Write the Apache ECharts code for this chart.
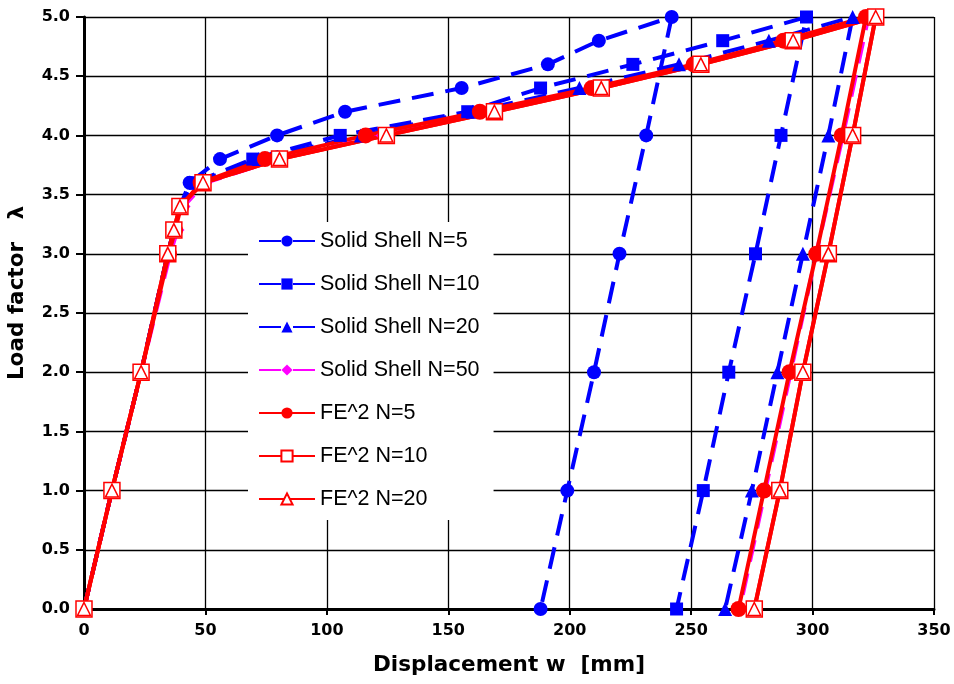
<!DOCTYPE html>
<html>
<head>
<meta charset="utf-8">
<script src="https://cdn.jsdelivr.net/npm/echarts@6/dist/echarts.min.js"></script>
<style>html,body{margin:0;padding:0;background:#fff;}#c{width:954px;height:684px;}</style>
</head>
<body>
<div id="c"></div>
<script>
// Load factor steps (loading then unloading)
var loadSteps = [0, 1, 2, 3, 3.2, 3.4, 3.6, 3.8, 4.0, 4.2, 4.4, 4.6, 4.8, 5.0, 4.0, 3.0, 2.0, 1.0, 0.0];
// Displacement w [mm] for each series, aligned with loadSteps
var ss5  = [0, 11.5, 23.5, 34.5, 37, 39.5, 43.5, 56, 79.5, 107.5, 155.5, 191, 212, 242, 231.5, 220.5, 210, 199, 188];
var ss10 = [0, 11.5, 23.5, 34.5, 37, 39.5, 45, 69.5, 105.5, 158, 188, 226, 263, 297.5, 287, 276.5, 265.5, 255, 244];
var ss20 = [0, 11.5, 23.5, 34.5, 37, 39.5, 46, 72, 114, 160, 204, 245, 282, 316.5, 306.5, 296, 285.5, 275, 264];
var ss50 = [0, 11.5, 23.5, 35.5, 38.5, 41, 50, 80, 123, 167, 211.5, 252, 288.5, 323, 312.5, 301.5, 291, 280.5, 270];
var fe5  = [0, 11.5, 23.5, 35, 37.5, 40, 48, 74.5, 116, 163, 209, 251, 288, 322, 312, 301.5, 290.5, 280, 269.5];
var fe10 = [0, 11.5, 23.5, 34.5, 37, 39.5, 49, 80.5, 124.5, 169, 213, 254, 292, 326, 316.5, 306.5, 296, 286.5, 276];
var fe20 = [0, 11.5, 23.5, 34.5, 37, 39.5, 49, 80.5, 124.5, 169, 213, 254, 292, 326, 316.5, 306.5, 296, 286.5, 276];
var seriesNames = ['Solid Shell N=5', 'Solid Shell N=10', 'Solid Shell N=20', 'Solid Shell N=50', 'FE^2 N=5', 'FE^2 N=10', 'FE^2 N=20'];

function pairs(xs) { return xs.map(function (x, i) { return [x, loadSteps[i]]; }); }

var BLUE = '#0000ff', MAG = '#ff00ff', RED = '#ff0000';
var dash = [22, 12];
function ss(name, xs, color, symbol, size) {
  return {
    name: name, type: 'line', data: pairs(xs), symbol: symbol, symbolSize: size,
    lineStyle: { color: color, width: 4, type: dash },
    itemStyle: { color: color }, animation: false
  };
}
function fe(name, xs, symbol, size, filled) {
  return {
    name: name, type: 'line', data: pairs(xs), symbol: symbol, symbolSize: size,
    lineStyle: { color: RED, width: 4, type: 'solid' },
    itemStyle: filled ? { color: RED } : { color: '#fff', borderColor: RED, borderWidth: 1.5 },
    animation: false
  };
}

var chart = echarts.init(document.getElementById('c'), null, { renderer: 'canvas' });
var axisFont = { fontFamily: 'DejaVu Sans', fontWeight: 'bold', fontSize: 16, color: '#000' };
chart.setOption({
  backgroundColor: '#fff',
  animation: false,
  grid: { left: 84, right: 20, top: 17, bottom: 75, containLabel: false, outerBoundsMode: 'none' },
  xAxis: {
    type: 'value', min: 0, max: 350, interval: 50,
    name: 'Displacement w  [mm]', nameLocation: 'middle', nameGap: 45,
    nameTextStyle: { fontFamily: 'DejaVu Sans', fontWeight: 'bold', fontSize: 21.5, color: '#000' },
    axisLine: { show: true, onZero: false, lineStyle: { color: '#000', width: 3 } },
    axisTick: { show: true, inside: false, length: 6, lineStyle: { color: '#000', width: 2 } },
    axisLabel: Object.assign({ margin: 14 }, axisFont),
    splitLine: { show: true, lineStyle: { color: '#000', width: 1.3 } }
  },
  yAxis: {
    type: 'value', min: 0, max: 5, interval: 0.5,
    name: 'Load factor   λ', nameLocation: 'middle', nameGap: 56,
    nameTextStyle: { fontFamily: 'DejaVu Sans', fontWeight: 'bold', fontSize: 21.5, color: '#000', padding: [0, 0, 0, 40] },
    axisLine: { show: true, onZero: false, lineStyle: { color: '#000', width: 3 } },
    axisTick: { show: true, inside: false, length: 8, lineStyle: { color: '#000', width: 2 } },
    axisLabel: Object.assign({ margin: 14, formatter: function (v) { return v.toFixed(1); } }, axisFont),
    splitLine: { show: true, lineStyle: { color: '#000', width: 1.3 } }
  },
  legend: {
    data: seriesNames, orient: 'vertical', left: 248, top: 222,
    backgroundColor: '#fff', padding: [8, 14, 10, 10],
    itemWidth: 56, itemHeight: 14, itemGap: 21,
    textStyle: { fontFamily: 'Liberation Sans', fontSize: 21.5, color: '#000' }
  },
  series: [
    ss(seriesNames[0], ss5, BLUE, 'circle', 14),
    ss(seriesNames[1], ss10, BLUE, 'rect', 13),
    ss(seriesNames[2], ss20, BLUE, 'triangle', 14),
    ss(seriesNames[3], ss50, MAG, 'diamond', 14),
    fe(seriesNames[4], fe5, 'circle', 16, true),
    fe(seriesNames[5], fe10, 'rect', 16, false),
    fe(seriesNames[6], fe20, 'triangle', 13, false)
  ]
});
</script>
</body>
</html>
